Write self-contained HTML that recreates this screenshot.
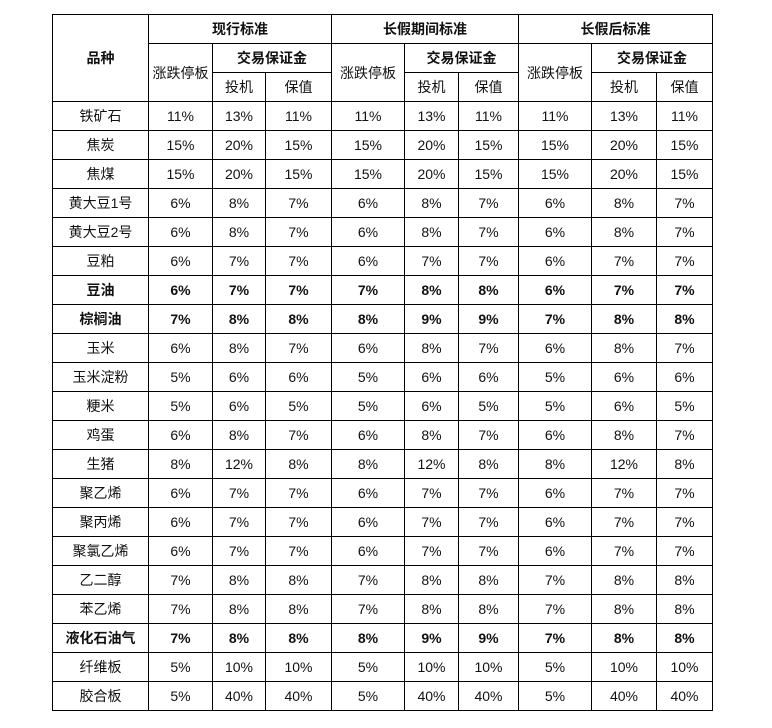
<!DOCTYPE html>
<html><head><meta charset="utf-8">
<style>
html,body{margin:0;padding:0;background:#fff;}
body{width:772px;height:728px;position:relative;overflow:hidden;font-family:"Liberation Sans","Noto Sans CJK SC",sans-serif;font-size:14px;color:#111;}
.t{position:absolute;left:52px;top:14px;width:661px;height:697px;}
.l{position:absolute;background:#000;}
.c{position:absolute;display:flex;align-items:center;justify-content:center;white-space:nowrap;}
.hb{font-weight:bold;}
.r{position:absolute;left:0;width:660px;height:29px;box-sizing:border-box;border-top:1px solid #000;}
.r span{position:absolute;top:0;height:28px;line-height:28px;text-align:center;box-sizing:border-box;border-left:1px solid #000;}
.r.b span{font-weight:bold;}
.r span:nth-child(1){left:0;width:96px;}
.r span:nth-child(2){left:96px;width:64px;}
.r span:nth-child(3){left:160px;width:53px;}
.r span:nth-child(4){left:213px;width:66px;}
.r span:nth-child(5){left:279px;width:73px;}
.r span:nth-child(6){left:352px;width:54px;}
.r span:nth-child(7){left:406px;width:60px;}
.r span:nth-child(8){left:466px;width:73px;}
.r span:nth-child(9){left:539px;width:65px;}
.r span:nth-child(10){left:604px;width:56px;}
</style></head><body>
<div class="t">
<!-- header lines -->
<div class="l" style="left:0;top:0;width:661px;height:1px"></div>
<div class="l" style="left:0;top:0;width:1px;height:697px"></div>
<div class="l" style="left:660px;top:0;width:1px;height:697px"></div>
<div class="l" style="left:0;top:696px;width:661px;height:1px"></div>
<div class="l" style="left:96px;top:0;width:1px;height:87px"></div>
<div class="l" style="left:279px;top:0;width:1px;height:87px"></div>
<div class="l" style="left:466px;top:0;width:1px;height:87px"></div>
<div class="l" style="left:96px;top:29px;width:565px;height:1px"></div>
<div class="l" style="left:160px;top:29px;width:1px;height:58px"></div>
<div class="l" style="left:352px;top:29px;width:1px;height:58px"></div>
<div class="l" style="left:539px;top:29px;width:1px;height:58px"></div>
<div class="l" style="left:160px;top:58px;width:120px;height:1px"></div>
<div class="l" style="left:352px;top:58px;width:115px;height:1px"></div>
<div class="l" style="left:539px;top:58px;width:122px;height:1px"></div>
<div class="l" style="left:213px;top:58px;width:1px;height:29px"></div>
<div class="l" style="left:406px;top:58px;width:1px;height:29px"></div>
<div class="l" style="left:604px;top:58px;width:1px;height:29px"></div>
<!-- header text -->
<div class="c hb" style="left:1px;top:1px;width:95px;height:86px">品种</div>
<div class="c hb" style="left:97px;top:1px;width:182px;height:28px">现行标准</div>
<div class="c hb" style="left:280px;top:1px;width:186px;height:28px">长假期间标准</div>
<div class="c hb" style="left:467px;top:1px;width:193px;height:28px">长假后标准</div>
<div class="c" style="left:97px;top:30px;width:63px;height:57px">涨跌停板</div>
<div class="c" style="left:280px;top:30px;width:72px;height:57px">涨跌停板</div>
<div class="c" style="left:467px;top:30px;width:72px;height:57px">涨跌停板</div>
<div class="c hb" style="left:161px;top:30px;width:118px;height:28px">交易保证金</div>
<div class="c hb" style="left:353px;top:30px;width:113px;height:28px">交易保证金</div>
<div class="c hb" style="left:540px;top:30px;width:120px;height:28px">交易保证金</div>
<div class="c" style="left:161px;top:59px;width:52px;height:28px">投机</div>
<div class="c" style="left:214px;top:59px;width:65px;height:28px">保值</div>
<div class="c" style="left:353px;top:59px;width:53px;height:28px">投机</div>
<div class="c" style="left:407px;top:59px;width:59px;height:28px">保值</div>
<div class="c" style="left:540px;top:59px;width:64px;height:28px">投机</div>
<div class="c" style="left:605px;top:59px;width:55px;height:28px">保值</div>
<!-- data rows -->
<div class="r" style="top:87px"><span>铁矿石</span><span>11%</span><span>13%</span><span>11%</span><span>11%</span><span>13%</span><span>11%</span><span>11%</span><span>13%</span><span>11%</span></div>
<div class="r" style="top:116px"><span>焦炭</span><span>15%</span><span>20%</span><span>15%</span><span>15%</span><span>20%</span><span>15%</span><span>15%</span><span>20%</span><span>15%</span></div>
<div class="r" style="top:145px"><span>焦煤</span><span>15%</span><span>20%</span><span>15%</span><span>15%</span><span>20%</span><span>15%</span><span>15%</span><span>20%</span><span>15%</span></div>
<div class="r" style="top:174px"><span>黄大豆1号</span><span>6%</span><span>8%</span><span>7%</span><span>6%</span><span>8%</span><span>7%</span><span>6%</span><span>8%</span><span>7%</span></div>
<div class="r" style="top:203px"><span>黄大豆2号</span><span>6%</span><span>8%</span><span>7%</span><span>6%</span><span>8%</span><span>7%</span><span>6%</span><span>8%</span><span>7%</span></div>
<div class="r" style="top:232px"><span>豆粕</span><span>6%</span><span>7%</span><span>7%</span><span>6%</span><span>7%</span><span>7%</span><span>6%</span><span>7%</span><span>7%</span></div>
<div class="r b" style="top:261px"><span>豆油</span><span>6%</span><span>7%</span><span>7%</span><span>7%</span><span>8%</span><span>8%</span><span>6%</span><span>7%</span><span>7%</span></div>
<div class="r b" style="top:290px"><span>棕榈油</span><span>7%</span><span>8%</span><span>8%</span><span>8%</span><span>9%</span><span>9%</span><span>7%</span><span>8%</span><span>8%</span></div>
<div class="r" style="top:319px"><span>玉米</span><span>6%</span><span>8%</span><span>7%</span><span>6%</span><span>8%</span><span>7%</span><span>6%</span><span>8%</span><span>7%</span></div>
<div class="r" style="top:348px"><span>玉米淀粉</span><span>5%</span><span>6%</span><span>6%</span><span>5%</span><span>6%</span><span>6%</span><span>5%</span><span>6%</span><span>6%</span></div>
<div class="r" style="top:377px"><span>粳米</span><span>5%</span><span>6%</span><span>5%</span><span>5%</span><span>6%</span><span>5%</span><span>5%</span><span>6%</span><span>5%</span></div>
<div class="r" style="top:406px"><span>鸡蛋</span><span>6%</span><span>8%</span><span>7%</span><span>6%</span><span>8%</span><span>7%</span><span>6%</span><span>8%</span><span>7%</span></div>
<div class="r" style="top:435px"><span>生猪</span><span>8%</span><span>12%</span><span>8%</span><span>8%</span><span>12%</span><span>8%</span><span>8%</span><span>12%</span><span>8%</span></div>
<div class="r" style="top:464px"><span>聚乙烯</span><span>6%</span><span>7%</span><span>7%</span><span>6%</span><span>7%</span><span>7%</span><span>6%</span><span>7%</span><span>7%</span></div>
<div class="r" style="top:493px"><span>聚丙烯</span><span>6%</span><span>7%</span><span>7%</span><span>6%</span><span>7%</span><span>7%</span><span>6%</span><span>7%</span><span>7%</span></div>
<div class="r" style="top:522px"><span>聚氯乙烯</span><span>6%</span><span>7%</span><span>7%</span><span>6%</span><span>7%</span><span>7%</span><span>6%</span><span>7%</span><span>7%</span></div>
<div class="r" style="top:551px"><span>乙二醇</span><span>7%</span><span>8%</span><span>8%</span><span>7%</span><span>8%</span><span>8%</span><span>7%</span><span>8%</span><span>8%</span></div>
<div class="r" style="top:580px"><span>苯乙烯</span><span>7%</span><span>8%</span><span>8%</span><span>7%</span><span>8%</span><span>8%</span><span>7%</span><span>8%</span><span>8%</span></div>
<div class="r b" style="top:609px"><span>液化石油气</span><span>7%</span><span>8%</span><span>8%</span><span>8%</span><span>9%</span><span>9%</span><span>7%</span><span>8%</span><span>8%</span></div>
<div class="r" style="top:638px"><span>纤维板</span><span>5%</span><span>10%</span><span>10%</span><span>5%</span><span>10%</span><span>10%</span><span>5%</span><span>10%</span><span>10%</span></div>
<div class="r" style="top:667px"><span>胶合板</span><span>5%</span><span>40%</span><span>40%</span><span>5%</span><span>40%</span><span>40%</span><span>5%</span><span>40%</span><span>40%</span></div>
</div>
</body></html>
